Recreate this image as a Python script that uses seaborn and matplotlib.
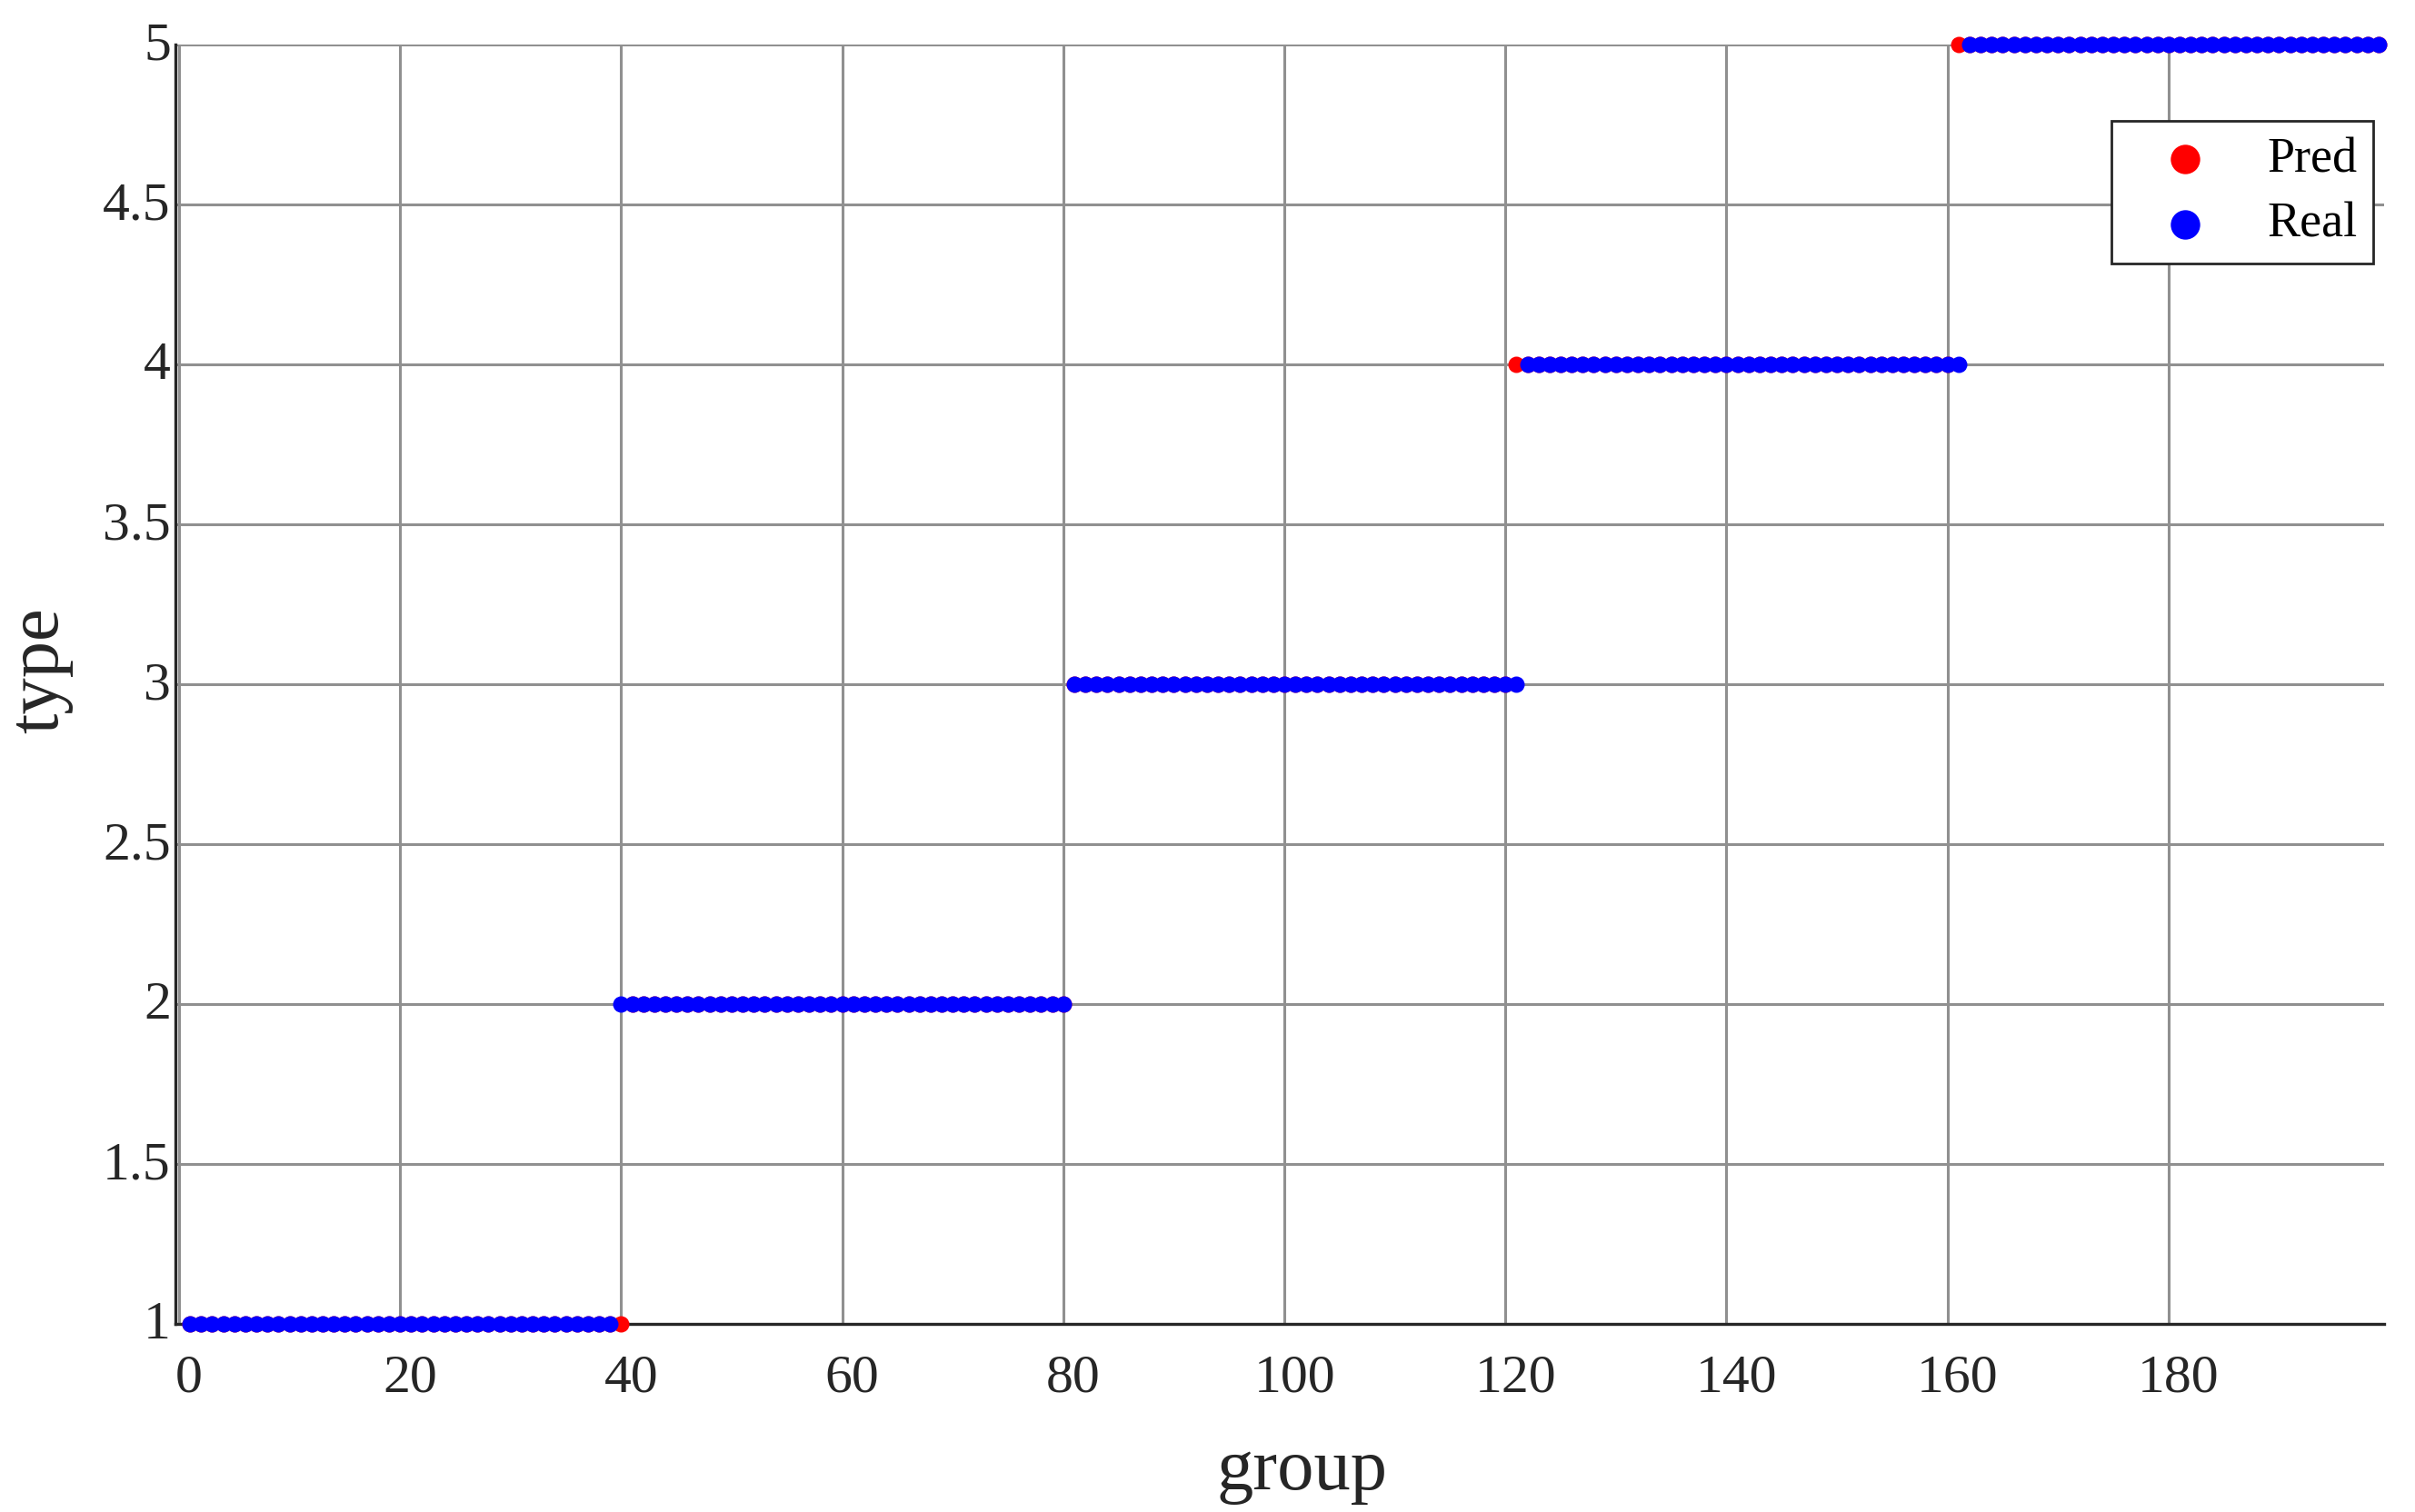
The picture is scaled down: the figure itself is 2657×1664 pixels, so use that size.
import numpy as np
import pandas as pd
import matplotlib
matplotlib.use("Agg")
import matplotlib.pyplot as plt
import matplotlib.transforms as mtransforms
import seaborn as sns

# ---- data ----
group = list(range(1, 200))                 # sample index 1..199
type_levels = [1, 2, 3, 4, 5]
real_counts = [39, 41, 41, 40, 38]          # run lengths of Real per type
pred_counts = [40, 40, 40, 40, 39]          # run lengths of Pred per type
xticks = [0, 20, 40, 60, 80, 100, 120, 140, 160, 180]
yticks = [1, 1.5, 2, 2.5, 3, 3.5, 4, 4.5, 5]
ytick_labels = ["1", "1.5", "2", "2.5", "3", "3.5", "4", "4.5", "5"]

real_type = np.repeat(type_levels, real_counts)
pred_type = np.repeat(type_levels, pred_counts)
df = pd.DataFrame({"group": group, "Real": real_type, "Pred": pred_type})

sns.set_style("white")
plt.rcParams["font.family"] = ["Liberation Serif", "DejaVu Serif"]

dark = "#262626"
fig = plt.figure(figsize=(13.285, 8.32), dpi=200)
ax = fig.add_axes([0.0726, 0.1244, 0.9146, 0.8462])

sns.scatterplot(data=df, x="group", y="Pred", color=(1, 0, 0), s=42, linewidth=0,
                label="Pred", ax=ax, clip_on=False, zorder=3)
sns.scatterplot(data=df, x="group", y="Real", color=(0, 0, 1), s=42, linewidth=0,
                label="Real", ax=ax, clip_on=False, zorder=4)

ax.set_xlim(-0.33, 199.5)
ax.set_ylim(1, 5)
ax.set_xticks(xticks)
ax.set_yticks(yticks)
ax.set_yticklabels(ytick_labels)

ax.set_axisbelow(True)
ax.grid(True, color="#909090", linewidth=1.1)

for side in ["top", "right"]:
    ax.spines[side].set_visible(False)
for side in ["left", "bottom"]:
    ax.spines[side].set_color(dark)
    ax.spines[side].set_linewidth(1.2)

ax.tick_params(axis="both", direction="in", length=9.7, width=1.2, color=dark,
               labelcolor=dark, labelsize=21.5)
ax.tick_params(axis="x", pad=12)
ax.tick_params(axis="y", pad=1.8)

# small offsets like the reference's label placement
xoff = mtransforms.ScaledTranslation(4 / 72, 0, fig.dpi_scale_trans)
for lab in ax.get_xticklabels():
    lab.set_transform(lab.get_transform() + xoff)
yoff = mtransforms.ScaledTranslation(0, 1.5 / 72, fig.dpi_scale_trans)
for lab in ax.get_yticklabels():
    lab.set_transform(lab.get_transform() + yoff)

ax.set_xlabel("group", fontsize=29, color=dark, labelpad=14)
ax.set_ylabel("type", fontsize=29, color=dark, labelpad=12)
ax.xaxis.label.set_x(0.5103)
ax.yaxis.label.set_y(0.5107)

leg = ax.legend(loc="upper right", bbox_to_anchor=(0.995, 0.940), borderaxespad=0,
                fontsize=19.5, markerscale=1.8, frameon=True, fancybox=False,
                edgecolor=dark, framealpha=1, borderpad=0.32, handlelength=2.35,
                handletextpad=0.5, labelspacing=0.39)
leg.get_frame().set_linewidth(1.0)
for t in leg.get_texts():
    t.set_color("black")

fig.savefig("out.png", dpi=200)
